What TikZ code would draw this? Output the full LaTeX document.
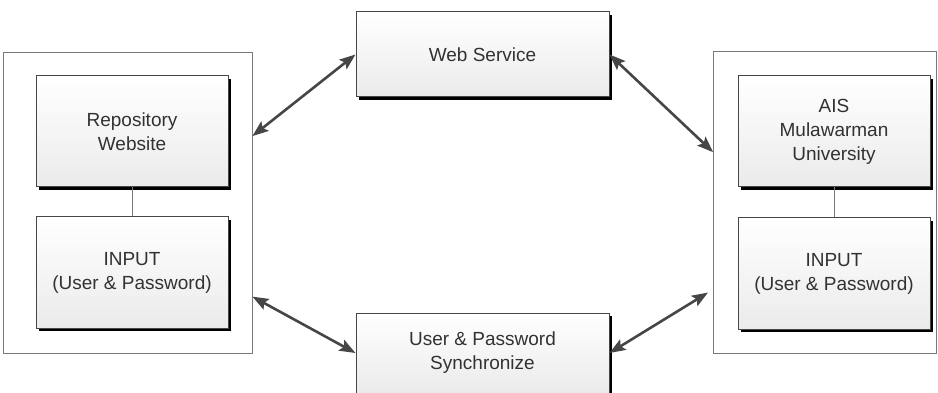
\documentclass[tikz,border=0pt]{standalone}
\usepackage{fontspec}
\setmainfont{Liberation Sans}
\usepackage{tikz}
\usetikzlibrary{arrows.meta,shapes,positioning,shadows}
\usepackage{xcolor}
\definecolor{linegray}{RGB}{70,70,70}
\definecolor{framegray}{RGB}{120,120,120}
\definecolor{textgray}{RGB}{50,50,50}
\tikzstyle{box} = [draw=linegray, line width=1pt, top color=white, bottom color=gray!16,
  drop shadow={shadow xshift=3pt, shadow yshift=-3pt, fill=black, opacity=1},
  minimum width=192pt, minimum height=111pt, align=center, text=textgray,
  font=\fontsize{19}{24}\selectfont]
\tikzstyle{frame} = [draw=framegray, line width=0.8pt]
\tikzstyle{arrow} = [line width=2.6pt, <->, >={Stealth[length=16pt,width=12pt,inset=3pt]}, color=linegray]

\begin{document}
\begin{tikzpicture}[x=1pt, y=-1pt]
\useasboundingbox (0,0) rectangle (938,393);
% Outer frames
\node[frame, minimum width=249pt, minimum height=301pt] (lframe) at (127.5,202.5) {};
\node[frame, minimum width=223pt, minimum height=302pt] (rframe) at (825,202) {};

\node[box] (repo) at (132,131.5) {Repository\\Website};
\node[box] (linput) at (132,272.5) {INPUT\\(User \& Password)};
\node[box] (ais) at (834,131.5) {AIS\\Mulawarman\\University};
\node[box] (rinput) at (834,273.5) {INPUT\\(User \& Password)};

\node[box, minimum width=253pt, minimum height=85pt] (web) at (482.5,54.5) {Web Service};
\node[box, minimum width=253pt, minimum height=80pt] (sync) at (482.5,353) {User \& Password\\Synchronize};

\draw[framegray, line width=0.8pt] (repo) -- (linput);
\draw[framegray, line width=0.8pt] (ais) -- (rinput);

\draw[arrow] (web.west) -- (lframe.28.5);
\draw[arrow] (web.east) -- (rframe.156.6);
\draw[arrow] (sync.west) -- (lframe.-37);
\draw[arrow, shorten >=6pt] (sync.east) -- (rframe.218.8);
\end{tikzpicture}
\end{document}
